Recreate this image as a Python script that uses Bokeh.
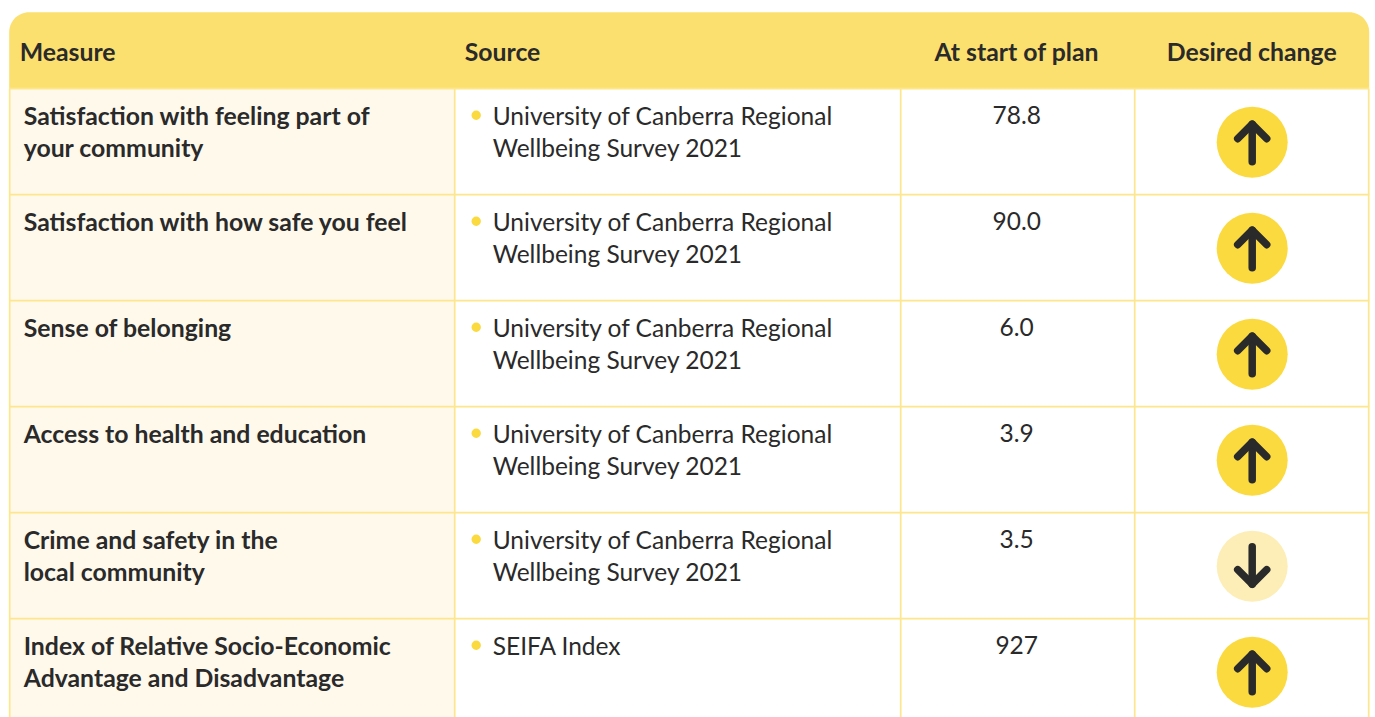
from bokeh.plotting import figure
from bokeh.embed import file_html
from bokeh.resources import INLINE
from bokeh.core.properties import value
from bokeh.models import Range1d
import numpy as np

headers = ["Measure", "Source", "At start of plan", "Desired change"]
measures = [
    ["Satisfaction with feeling part of", "your community"],
    ["Satisfaction with how safe you feel"],
    ["Sense of belonging"],
    ["Access to health and education"],
    ["Crime and safety in the", "local community"],
    ["Index of Relative Socio-Economic", "Advantage and Disadvantage"],
]
uc = ["University of Canberra Regional", "Wellbeing Survey 2021"]
sources = [uc, uc, uc, uc, uc, ["SEIFA Index"]]
start_values = ["78.8", "90.0", "6.0", "3.9", "3.5", "927"]
directions = ["up", "up", "up", "up", "down", "up"]

HEADER = "#FCE06F"; LEFT = "#FFF9EC"; GRID = "#FDE68C"; INK = "#2A2A2A"
FULL = "#FBDA3F"; PALE = "#FCEEB6"; FONT = "Lato"
X0, X1, X2, X3, X4 = 9, 454.5, 900.5, 1134.5, 1369
TOP, HEAD, ROW, BOTTOM = 12, 88.5, 106, 718
PAD = 20
SHIFT = 0.3

p = figure(width=1375, height=717, output_backend="svg", toolbar_location=None,
           x_range=Range1d(SHIFT, 1375 + SHIFT), y_range=Range1d(717 + SHIFT, SHIFT), min_border=0,
           outline_line_color=None, background_fill_color="white", border_fill_color="white")
p.xaxis.visible = False; p.yaxis.visible = False; p.grid.visible = False

n = len(measures)
row_top = [HEAD + ROW * i for i in range(n)]

# header with rounded top corners
t = np.linspace(0, np.pi / 2, 16)
hx = np.concatenate([[X0], X0 + PAD - PAD * np.cos(t), X4 - PAD + PAD * np.sin(t), [X4]])
hy = np.concatenate([[HEAD], TOP + PAD - PAD * np.sin(t), TOP + PAD - PAD * np.cos(t), [HEAD]])
p.patch(hx, hy, fill_color=HEADER, line_color=None)

# first column tint
p.quad(left=X0, right=X1, top=HEAD, bottom=BOTTOM, fill_color=LEFT, line_color=None)

# grid
for x in (X1, X2, X3):
    p.segment(x, HEAD, x, BOTTOM, line_color=GRID, line_width=1.7)
for x in (X0 + .5, X4 - .5):
    p.segment(x, HEAD, x, BOTTOM, line_color=GRID, line_width=1.7)
for y in row_top:
    p.segment(X0, y, X4, y, line_color=GRID, line_width=1.7)

def txt(x, y, s, size, style="normal", align="left"):
    # Bokeh's svg text sits about 9px under the requested baseline
    p.text(x=[x - 0.5], y=[y - 8.8], text=[s], text_font=value(FONT), text_font_size=size,
           text_font_style=style, text_color=INK, text_align=align, text_baseline="alphabetic")

BOLD = "24.8px"; REG = "24.5px"; LINE = 32
for x, s, a in zip((20, 465, 1017, 1252), headers, ("left", "left", "center", "center")):
    txt(x, 60, s, BOLD, "bold", a)

for i in range(n):
    base = row_top[i] + 35.5
    for j, s in enumerate(measures[i]):
        txt(24, base + j * LINE, s, BOLD, "bold")
    for j, s in enumerate(sources[i]):
        txt(493, base + j * LINE, s, REG)
    p.circle(x=[476], y=[row_top[i] + 26.5], radius=4.7, fill_color=FULL, line_color=None)
    txt(1017, base, start_values[i], REG, "normal", "center")
    cy = row_top[i] + 53.5
    up = directions[i] == "up"
    p.circle(x=[1252], y=[cy], radius=35.5, fill_color=FULL if up else PALE, line_color=None)
    d = 1 if up else -1
    tip = cy - 18 * d
    p.multi_line(xs=[[1252, 1252], [1252 - 14.5, 1252, 1252 + 14.5]],
                 ys=[[cy + 19.5 * d, tip], [tip + 14.5 * d, tip, tip + 14.5 * d]],
                 line_color=INK, line_width=7.5, line_cap="round", line_join="round")

open("out.html", "w").write(file_html(p, INLINE))
